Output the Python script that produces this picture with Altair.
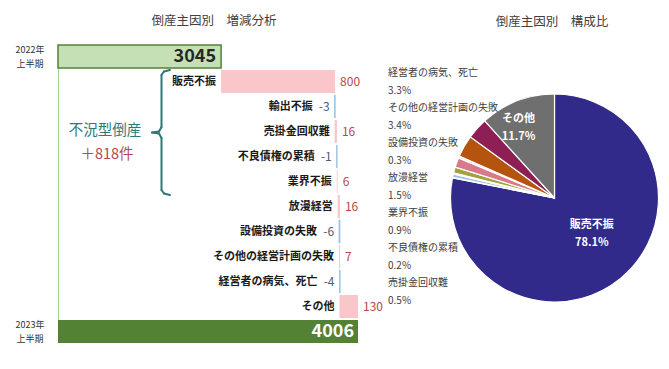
import altair as alt
import pandas as pd

# ---------------- data ----------------
causes = ["販売不振", "輸出不振", "売掛金回収難", "不良債権の累積", "業界不振",
          "放漫経営", "設備投資の失敗", "その他の経営計画の失敗", "経営者の病気、死亡", "その他"]
changes = [800, -3, 16, -1, 6, 16, -6, 7, -4, 130]
start_value = 3045
end_value = 4006
period_labels = ["2022年\n上半期", "2023年\n上半期"]
shares = [78.1, 0.1, 0.5, 0.2, 0.9, 1.5, 0.3, 3.4, 3.3, 11.7]
pie_colors = ["#322A8A", "#4BACC6", "#9DC3E6", "#F3EFC2", "#A3A23C",
              "#D9798C", "#F5CBD2", "#B4540F", "#8E1F55", "#6F6F6F"]
group_label = "不況型倒産"
group_total = "＋818件"
title_left = "倒産主因別　増減分析"
title_right = "倒産主因別　構成比"
x_min = 1900

FONT = "Noto Sans CJK JP"
TEAL = "#2B7A78"
RED = "#B8464A"
SLATE = "#4A5C7A"

# ---------------- waterfall tables ----------------
rows = ["start"] + causes + ["end"]
recs = []
cum = start_value
for c, d in zip(causes, changes):
    prev = cum
    cum += d
    recs.append(dict(row=c, lo=min(prev, cum), hi=max(prev, cum), label=c,
                     vlabel=str(d), sign="pos" if d > 0 else "neg"))
steps = pd.DataFrame(recs)
pos = steps[steps.sign == "pos"]
neg = steps[steps.sign == "neg"]
totals = pd.DataFrame([
    dict(row="start", lo=x_min, hi=start_value, label=period_labels[0], vlabel=str(start_value)),
    dict(row="end", lo=x_min, hi=end_value, label=period_labels[1], vlabel=str(end_value)),
])

xs = alt.Scale(domain=[x_min, end_value], range=[50, 350], nice=False, zero=False)
ys = alt.Scale(domain=rows, range=[36, 336], paddingInner=0.08, paddingOuter=0.04)
X = lambda f: alt.X(f, scale=xs, axis=None)
Y = alt.Y("row:N", scale=ys, axis=None, sort=rows)

one = pd.DataFrame({"a": [0]})

layers = []

# left guide line
layers.append(alt.Chart(one).mark_rule(color="#A9D18E", strokeWidth=1).encode(
    x=alt.value(50.5), y=alt.value(60), y2=alt.value(312)))

# bars
layers.append(alt.Chart(totals[totals.row == "start"]).mark_bar(
    color="#C5E0B4", stroke="#548235", strokeWidth=1.5).encode(x=X("lo:Q"), x2="hi:Q", y=Y))
layers.append(alt.Chart(totals[totals.row == "end"]).mark_bar(
    color="#548235").encode(x=X("lo:Q"), x2="hi:Q", y=Y))
layers.append(alt.Chart(pos).mark_bar(color="#F9C6C9").encode(x=X("lo:Q"), x2="hi:Q", y=Y))
layers.append(alt.Chart(neg).mark_bar(color="#9DC3E6", stroke="#9DC3E6", strokeWidth=1).encode(
    x=X("lo:Q"), x2="hi:Q", y=Y))

# total value labels
layers.append(alt.Chart(totals[totals.row == "start"]).mark_text(
    align="right", dx=-5, fontSize=18, fontWeight="bold", color="#262626").encode(
    x=X("hi:Q"), y=Y, text="vlabel:N"))
layers.append(alt.Chart(totals[totals.row == "end"]).mark_text(
    align="right", dx=-4, fontSize=18, fontWeight="bold", color="white").encode(
    x=X("hi:Q"), y=Y, text="vlabel:N"))

# period labels (first line is placed at the anchor)
layers.append(alt.Chart(totals).mark_text(
    align="center", dy=-7, fontSize=9, lineBreak="\n", lineHeight=14, color="#333333").encode(
    x=alt.value(22), y=Y, text="label:N"))

# category labels
layers.append(alt.Chart(pos).mark_text(align="right", dx=-5, fontSize=11, fontWeight="bold",
                                       color="#1A1A1A").encode(x=X("lo:Q"), y=Y, text="label:N"))
layers.append(alt.Chart(neg).mark_text(align="right", dx=-22, fontSize=11, fontWeight="bold",
                                       color="#1A1A1A").encode(x=X("lo:Q"), y=Y, text="label:N"))
# value labels
layers.append(alt.Chart(pos).mark_text(align="left", dx=5, fontSize=12, color=RED).encode(
    x=X("hi:Q"), y=Y, text="vlabel:N"))
layers.append(alt.Chart(neg).mark_text(align="right", dx=-5, fontSize=12, color=SLATE).encode(
    x=X("lo:Q"), y=Y, text="vlabel:N"))

# brace annotation
brace = [(162, 62, 156, 63.5), (156, 63.5, 153.5, 67), (153.5, 67, 153.5, 119),
         (153.5, 119, 151, 123.5), (151, 123.5, 144, 124.5), (144, 124.5, 151, 125.5),
         (151, 125.5, 153.5, 130), (153.5, 130, 153.5, 182), (153.5, 182, 156, 185.5),
         (156, 185.5, 162, 187)]
for x1, y1, x2, y2 in brace:
    layers.append(alt.Chart(one).mark_rule(color=TEAL, strokeWidth=2, strokeCap="round").encode(
        x=alt.value(x1), y=alt.value(y1), x2=alt.value(x2), y2=alt.value(y2)))

layers.append(alt.Chart(one).mark_text(fontSize=14.5, color=TEAL).encode(
    x=alt.value(97), y=alt.value(123), text=alt.value(group_label)))
layers.append(alt.Chart(one).mark_text(fontSize=14.5, color=RED).encode(
    x=alt.value(99), y=alt.value(147), text=alt.value(group_total)))

# titles
layers.append(alt.Chart(one).mark_text(fontSize=12.5, color="#404040").encode(
    x=alt.value(206), y=alt.value(13), text=alt.value(title_left)))
layers.append(alt.Chart(one).mark_text(fontSize=12.5, color="#404040").encode(
    x=alt.value(544), y=alt.value(14), text=alt.value(title_right)))

# ---------------- pie ----------------
CX, CY, R = 546.5, 190, 104
pie = pd.DataFrame(dict(cause=causes, share=shares, k=list(range(len(causes)))))
pie["inner"] = [f"{c}\n{s:.1f}%" for c, s in zip(causes, shares)]
theta = alt.Theta("share:Q", stack=True, scale=alt.Scale(range=[0, 6.283185307]))
order = alt.Order("k:Q")

layers.append(alt.Chart(pie).mark_arc(outerRadius=R, stroke="white", strokeWidth=1.2).encode(
    theta=theta, order=order,
    color=alt.Color("cause:N", scale=alt.Scale(domain=causes, range=pie_colors), legend=None),
    x=alt.value(CX), y=alt.value(CY)))

for name, rad, ddx, ddy in [(causes[0], 46, 8, -9), (causes[-1], 75, -9, -9)]:
    layers.append(alt.Chart(pie).transform_calculate(
        t=f"datum.cause === '{name}' ? datum.inner : ''").mark_text(
        radius=rad, dx=ddx, dy=ddy, fontSize=11, fontWeight="bold", color="white",
        lineBreak="\n", lineHeight=18).encode(
        theta=theta, order=order, text="t:N", x=alt.value(CX), y=alt.value(CY)))

# outside label list
items = [(c, s) for c, s in zip(causes, shares) if c not in (causes[0], causes[1], causes[-1])][::-1]
lines = []
for c, s in items:
    lines += [c, f"{s:.1f}%"]
lh = 17.5
lab = pd.DataFrame({"t": ["\n".join(lines)]})
layers.append(alt.Chart(lab).mark_text(align="left", fontSize=10, color="#404040",
                                       lineBreak="\n", lineHeight=lh).encode(
    x=alt.value(380), y=alt.value(65), text="t:N"))

chart = alt.layer(*layers).properties(
    width=653, height=353, autosize=alt.AutoSizeParams(type="none"), padding=0,
    background="white"
).configure(font=FONT).configure_view(strokeWidth=0)

chart.save("out.html", embed_options={"renderer": "svg", "actions": False})
